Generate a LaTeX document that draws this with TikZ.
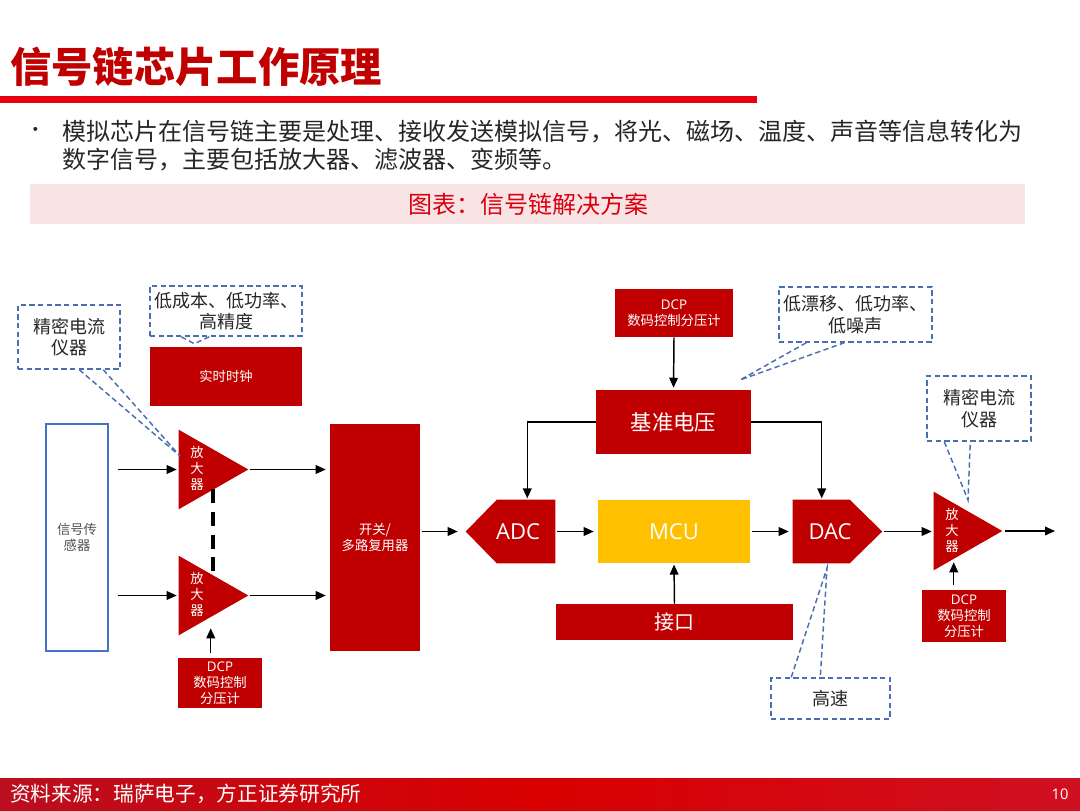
\documentclass[tikz,border=0pt]{standalone}
\usepackage{fontspec}
\setmainfont{Noto Sans CJK SC}
\newfontfamily\latin{Open Sans}
\usetikzlibrary{arrows.meta,calc}
\definecolor{boxred}{HTML}{C00000}
\definecolor{titlered}{HTML}{C00000}
\definecolor{linered}{HTML}{E60012}
\definecolor{mcuyellow}{HTML}{FFC000}
\definecolor{callblue}{HTML}{4A6FB0}
\definecolor{sensblue}{HTML}{4472C4}
\definecolor{bandpink}{HTML}{F8E4E4}
\definecolor{bandtext}{HTML}{D9000F}
\definecolor{footred}{HTML}{CF1022}
\definecolor{txt}{HTML}{262626}
\begin{document}
\begin{tikzpicture}[x=0.75pt,y=-0.75pt,
  sz/.style 2 args={minimum width=#1*0.75pt, minimum height=#2*0.75pt},
  redbox/.style={fill=boxred, text=white, inner sep=0pt, align=center},
  ghost/.style={inner sep=0pt},
  small/.style={font=\fontsize{10}{12}\selectfont},
  big/.style={font=\fontsize{16}{19}\selectfont},
  biglat/.style={font=\latin\fontsize{16.5}{19}\selectfont},
  calltxt/.style={font=\fontsize{13.5}{16}\selectfont},
  arrowline/.style={-{Triangle[length=7.5pt,width=6.5pt]}, line width=1.1pt, black},
  callout/.style={draw=callblue, dash pattern=on 4pt off 2.5pt, line width=1.1pt, text=txt, align=center, inner sep=0pt},
  callline/.style={draw=callblue, dash pattern=on 4pt off 2.5pt, line width=1.1pt},
  amplbl/.style={text=white, align=center, inner sep=0pt, font=\fontsize{10}{12}\selectfont}
]
\useasboundingbox (0,0) rectangle (1080,810);

% ---------- header ----------
\node[anchor=west, text=titlered, inner sep=0pt, font=\fontsize{31}{36}\selectfont\bfseries] (title) at (10,67) {信号链芯片工作原理};
\fill[linered] (0,96) rectangle (757,103);

\node[anchor=center, text=txt, inner sep=0pt, font=\fontsize{14}{22}\selectfont] (bullet) at (36,132) {•};
\node[anchor=west, text=txt, inner sep=0pt, font=\fontsize{18}{22}\selectfont] (line1) at (62,132) {模拟芯片在信号链主要是处理、接收发送模拟信号，将光、磁场、温度、声音等信息转化为};
\node[anchor=west, text=txt, inner sep=0pt, font=\fontsize{18}{22}\selectfont] (line2) at (62,160) {数字信号，主要包括放大器、滤波器、变频等。};

\node[fill=bandpink, sz={995}{40}, inner sep=0pt] (band) at (527.5,204) {};
\node[text=bandtext, inner sep=0pt, font=\fontsize{18}{22}\selectfont] (bandtxt) at (528,204) {图表：信号链解决方案};

% ---------- diagram blocks ----------
\node[draw=sensblue, line width=1.1pt, fill=white, sz={62}{227}, text=txt!80, align=center, inner sep=0pt, small] (sensor) at (77,537.5) {信号传\\感器};

% amplifiers (bounding boxes + triangles)
\node[ghost, sz={69}{79}] (amp1) at (213.5,469.5) {};
\node[ghost, sz={69}{79}] (amp2) at (213.5,595.5) {};
\node[ghost, sz={68}{78}] (amp3) at (968,531) {};
\fill[boxred] (amp1.north west) -- (amp1.east) -- (amp1.south west) -- cycle;
\fill[boxred] (amp2.north west) -- (amp2.east) -- (amp2.south west) -- cycle;
\fill[boxred] (amp3.north west) -- (amp3.east) -- (amp3.south west) -- cycle;
\node[amplbl] (amp1lbl) at (197,468) {放\\大\\器};
\node[amplbl] (amp2lbl) at (197,594) {放\\大\\器};
\node[amplbl] (amp3lbl) at (952,530) {放\\大\\器};

\node[redbox, sz={152}{59}, small] (rtc) at (226,376.5) {实时时钟};
\node[redbox, sz={84}{50}, small] (dcp1) at (220,683) {{\latin DCP}\\数码控制\\分压计};
\node[redbox, sz={90}{227}, small] (switch) at (375,537.5) {开关/\\多路复用器};

% ADC
\node[ghost, sz={89}{63}] (adc) at (510.5,531.5) {};
\fill[boxred] (adc.west) -- ($(adc.north west)+(31,0)$) -- (adc.north east) -- (adc.south east) -- ($(adc.south west)+(31,0)$) -- cycle;
\node[text=white, inner sep=0pt, biglat] (adclbl) at (518,532) {ADC};

\node[fill=mcuyellow, text=white, sz={152}{63}, inner sep=0pt, biglat] (mcu) at (674,531.5) {MCU};

% DAC
\node[ghost, sz={89}{63}] (dac) at (837.5,531.5) {};
\fill[boxred] (dac.north west) -- ($(dac.north west)+(57,0)$) -- (dac.east) -- ($(dac.south west)+(57,0)$) -- (dac.south west) -- cycle;
\node[text=white, inner sep=0pt, biglat] (daclbl) at (830,532) {DAC};

\node[redbox, sz={155}{64}, big] (vref) at (673.5,422) {基准电压};
\node[redbox, sz={118}{48}, small] (dcptop) at (674,313) {{\latin DCP}\\数码控制分压计};
\node[redbox, sz={237}{36}, font=\fontsize{15}{18}\selectfont] (iface) at (674.5,622) {接口};
\node[redbox, sz={84}{52}, small] (dcp3) at (964,616) {{\latin DCP}\\数码控制\\分压计};

% ---------- callouts ----------
\node[callout, sz={102}{64}, calltxt] (c1) at (69,337) {精密电流\\仪器};
\node[callout, sz={152}{50}, calltxt] (c2) at (226,311) {低成本、低功率、\\高精度};
\node[callout, sz={153}{55}, calltxt] (c3) at (855.5,314.5) {低漂移、低功率、\\低噪声};
\node[callout, sz={104}{65}, calltxt] (c4) at (979,408.5) {精密电流\\仪器};
\node[callout, sz={119}{41}, calltxt] (c5) at (830.5,698.5) {高速};

\coordinate (t1) at (180,456);
\coordinate (t3) at (740,380);
\coordinate (t4) at (968,500);
\coordinate (t5) at (827,568);
\coordinate (out) at (1055,531);

\draw[callline] ($(c1.south west)+(62,0)$) -- (t1) -- ($(c1.south west)+(86,0)$);
\draw[callline] ($(c2.south west)+(32,0)$) -- ($(c2.south west)+(45,7)$) -- ($(c2.south west)+(60,0)$);
\draw[callline] ($(c3.south west)+(28,0)$) -- (t3) -- ($(c3.south west)+(66,0)$);
\draw[callline] ($(c4.south west)+(18,0)$) -- (t4) -- ($(c4.south west)+(44,0)$);
\draw[callline] ($(c5.north west)+(21,0)$) -- (t5) -- ($(c5.north west)+(50,0)$);

% ---------- connectors ----------
\draw[line width=3pt, dash pattern=on 10.5pt off 6.5pt] ($(amp1.south west)+(34,-20)$) -- ($(amp2.north west)+(34,20)$);

\draw[arrowline, shorten <=6.75pt, shorten >=1.5pt] (sensor.east |- amp1.west) -- (amp1.west);
\draw[arrowline, shorten <=6.75pt, shorten >=1.5pt] (sensor.east |- amp2.west) -- (amp2.west);
\draw[arrowline, shorten <=1pt, shorten >=3pt] (amp1.east) -- (amp1.east -| switch.west);
\draw[arrowline, shorten <=1pt, shorten >=3pt] (amp2.east) -- (amp2.east -| switch.west);
\draw[arrowline, shorten <=1pt, shorten >=6pt] (switch.east |- adc.west) -- (adc.west);
\draw[arrowline, shorten <=1pt, shorten >=3pt] (adc.east) -- (adc.east -| mcu.west);
\draw[arrowline, shorten <=1pt, shorten >=3pt] (mcu.east) -- (mcu.east -| dac.west);
\draw[arrowline, shorten <=1pt, shorten >=1.5pt] (dac.east) -- (dac.east -| amp3.west);
\draw[arrowline, shorten <=2pt] (amp3.east) -- (out);

\draw[arrowline, shorten >=1.5pt] (dcptop.south) -- (vref.north);
\draw[arrowline, shorten >=1pt] (vref.west) -| ($(adc.north east)+(-28,0)$);
\draw[arrowline, shorten >=1pt] (vref.east) -| ($(dac.north west)+(29,0)$);
\draw[arrowline, shorten >=1pt] (iface.north) -- (mcu.south);
\draw[arrowline] ($(dcp1.north west)+(33,-5)$) -- ($(amp2.south west)+(32,-7)$);
\draw[arrowline] ($(dcp3.north west)+(32,-5)$) -- ($(amp3.south west)+(20,-8)$);

% ---------- footer ----------
\shade[left color=footred!90!black, right color=footred, middle color=red!85!black] (0,778) rectangle (1080,810);
\node[anchor=west, text=white, inner sep=0pt, font=\fontsize{15.5}{18}\selectfont] (source) at (10,794) {资料来源：瑞萨电子，方正证券研究所};
\node[text=white, inner sep=0pt, font=\latin\fontsize{11}{13}\selectfont] (page) at (1060,794) {10};
\end{tikzpicture}
\end{document}
